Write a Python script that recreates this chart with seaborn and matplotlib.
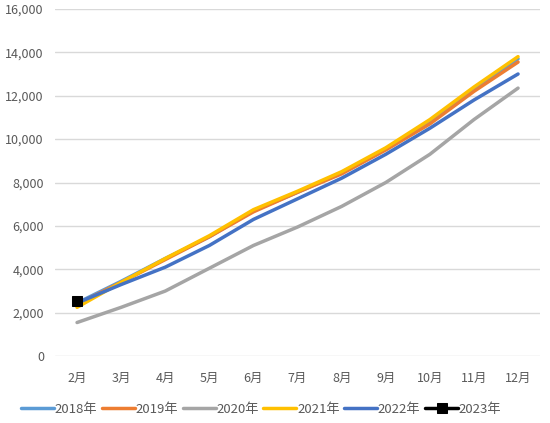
import pandas as pd
import matplotlib.pyplot as plt
import seaborn as sns
from matplotlib.ticker import FuncFormatter

# data
months = ['2月', '3月', '4月', '5月', '6月', '7月', '8月', '9月', '10月', '11月', '12月']
y2018 = [2450, 3450, 4500, 5500, 6700, 7550, 8450, 9550, 10800, 12300, 13700]
y2019 = [2400, 3400, 4450, 5500, 6650, 7550, 8400, 9500, 10700, 12200, 13550]
y2020 = [1550, 2250, 3000, 4050, 5100, 5950, 6900, 8000, 9300, 10900, 12350]
y2021 = [2250, 3400, 4500, 5550, 6750, 7600, 8500, 9600, 10900, 12400, 13800]
y2022 = [2450, 3300, 4100, 5100, 6300, 7250, 8200, 9300, 10500, 11800, 13000]
y2023 = [2550]

years = ['2018年', '2019年', '2020年', '2021年', '2022年', '2023年']
series = [y2018, y2019, y2020, y2021, y2022, y2023]
colors = ['#5B9BD5', '#ED7D31', '#A5A5A5', '#FFC000', '#4472C4', '#000000']

rows = []
for yr, vals in zip(years, series):
    for i, v in enumerate(vals):
        rows.append({'year': yr, 'pos': i, 'value': v})
df = pd.DataFrame(rows)

sns.set_style('white')
plt.rcParams['font.family'] = ['Noto Sans CJK JP', 'DejaVu Sans']

fig = plt.figure(figsize=(5.5, 4.23), dpi=100)
ax = fig.add_axes([0.10, 0.158, 0.882, 0.821])

# draw in legend order so later years sit on top
for yr, c in zip(years, colors):
    sub = df[df['year'] == yr]
    if yr == '2023年':
        sns.lineplot(data=sub, x='pos', y='value', ax=ax, color=c, linewidth=2.5,
                     marker='s', markersize=7, markeredgecolor=c, label=yr)
    else:
        sns.lineplot(data=sub, x='pos', y='value', ax=ax, color=c, linewidth=2.5,
                     label=yr)

ax.set_xlim(-0.5, len(months) - 0.5)
ax.set_ylim(0, 16000)
ax.set_yticks(range(0, 16001, 2000))
ax.yaxis.set_major_formatter(FuncFormatter(lambda v, p: f'{int(v):,}'))
ax.set_xticks(range(len(months)))
ax.set_xticklabels(months)
ax.set_xlabel('')
ax.set_ylabel('')
ax.grid(axis='y', color='#D9D9D9', linewidth=1)
ax.set_axisbelow(True)
for s in ax.spines.values():
    s.set_visible(False)
ax.tick_params(axis='both', length=0, labelsize=9, labelcolor='#595959')
ax.tick_params(axis='x', pad=11)
ax.tick_params(axis='y', pad=8)

ax.legend(loc='center', bbox_to_anchor=(0.425, -0.153), ncol=6, frameon=False,
          fontsize=9.5, handlelength=2.5, handletextpad=0.05, columnspacing=0.35,
          labelcolor='#595959')

fig.savefig('out.png', dpi=100)
